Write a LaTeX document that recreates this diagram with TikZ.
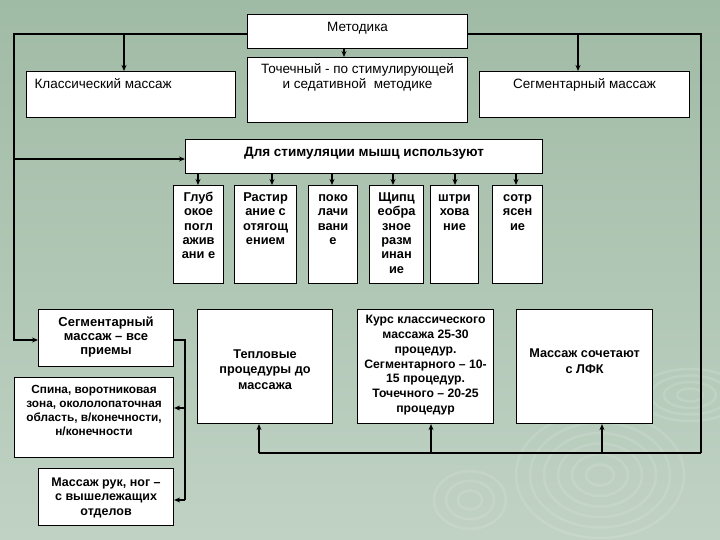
\documentclass[tikz,border=0pt]{standalone}
\usepackage{fontspec}
\setmainfont{Liberation Sans}
\usetikzlibrary{arrows.meta}
\newcommand\cellbox[4]{\parbox[c][#2pt][t]{#1pt}{\vspace*{#3pt}\centering #4\par}}
\newcommand\cellboxl[4]{\parbox[c][#2pt][t]{#1pt}{\vspace*{#3pt}\raggedright\hspace*{8pt}#4\par}}
\definecolor{bgtop}{RGB}{160,187,165}
\definecolor{bgbot}{RGB}{192,210,196}
\tikzset{
  box/.style={draw=black, fill=white, line width=1.1pt, inner sep=0pt, anchor=north west},
  fr/.style={node font=\fontsize{13.5}{13}\selectfont},
  fb/.style={node font=\bfseries\fontsize{#1}{#1}\selectfont},
  smallbox/.style={box, node font=\bfseries\fontsize{12.8}{14.4}\selectfont},
  ln/.style={line width=1.1pt, draw=black},
  arr/.style={ln, -{Stealth[length=6pt,width=5pt]}},
  lnb/.style={line width=2pt, draw=black},
  arrb/.style={lnb, -{Stealth[length=6pt,width=5pt]}},
  ripple/.style={draw=white, draw opacity=0.12, line width=2.5pt}
}
\begin{document}
\begin{tikzpicture}[x=1pt,y=-1pt]
\useasboundingbox (0,0) rectangle (720,540);
\shade[top color=bgtop, bottom color=bgbot] (0,0) rectangle (720,540);
% ripples
\begin{scope}
\clip (0,0) rectangle (720,540);
\foreach \r in {14,28,42,56,70,84} \draw[ripple] (600,475) ellipse ({\r} and {0.75*\r});
\foreach \r in {10,20,30,40} \draw[ripple] (690,395) ellipse ({1.3*\r} and {0.65*\r});
\foreach \r in {12,24,36} \draw[ripple] (470,500) ellipse ({\r} and {0.8*\r});
\end{scope}

% top row
\node[box, fr] (met) at (247,14) {\cellbox{220}{34}{8}{Методика}};
\node[box, fr, node font=\fontsize{13.5}{15}\selectfont] (toch) at (247,57) {\cellbox{220}{65}{6.3}{Точечный - по стимулирующей\\и седативной~ методике}};
\node[box, fr] (klass) at (26,71) {\cellboxl{209}{46}{6.5}{Классический массаж}};
\node[box, fr] (segm) at (479,71) {\cellbox{210}{46}{6.5}{Сегментарный массаж}};

% stimulation
\node[box, fb=13.5] (stim) at (185,139) {\cellbox{357}{34}{7.5}{Для стимуляции мышц используют}};

\node[smallbox] (b1) at (173,185) {\cellbox{50}{98}{5.6}{\strut Глуб\\окое\\погл\\ажив\\ани е}};
\node[smallbox] (b2) at (234,185) {\cellbox{62}{98}{5.6}{\strut Растир\\ание с\\отягощ\\ением}};
\node[smallbox] (b3) at (308,185) {\cellbox{49}{98}{5.6}{\strut поко\\лачи\\вани\\е}};
\node[smallbox] (b4) at (369,185) {\cellbox{54}{98}{5.6}{\strut Щипц\\еобра\\зное\\разм\\инан\\ие}};
\node[smallbox] (b5) at (430,185) {\cellbox{48}{98}{5.6}{\strut штри\\хова\\ние}};
\node[smallbox] (b6) at (492,185) {\cellbox{50}{98}{5.6}{\strut сотр\\ясен\\ие}};

% bottom left
\node[box, node font=\bfseries\fontsize{13}{14}\selectfont] (seg2) at (38,309) {\cellbox{135}{57}{7.5}{Сегментарный\\массаж – все\\приемы}};
\node[box, node font=\bfseries\fontsize{11.8}{14}\selectfont] (spina) at (14,377) {\cellbox{159}{80}{8}{Спина, воротниковая\\зона, окололопаточная\\область, в/конечности,\\н/конечности}};
\node[box, node font=\bfseries\fontsize{12.5}{14.5}\selectfont] (ruk) at (38,468) {\cellbox{135}{57}{9}{Массаж рук, ног –\\с вышележащих\\отделов}};

% bottom right
\node[box, node font=\bfseries\fontsize{12.7}{15.5}\selectfont] (tep) at (197,309) {\cellbox{135}{114}{40}{Тепловые\\процедуры до\\массажа}};
\node[box, node font=\bfseries\fontsize{12.2}{14.7}\selectfont] (kurs) at (357,309) {\cellbox{136}{114}{6}{Курс классического\\массажа 25-30\\процедур.\\Сегментарного – 10-\\15 процедур.\\Точечного – 20-25\\процедур}};
\node[box, node font=\bfseries\fontsize{12.7}{16}\selectfont] (lfk) at (516,309) {\cellbox{136}{114}{39}{Массаж сочетают\\с ЛФК}};

% coordinates
\coordinate (cTL) at (14,34);
\coordinate (cTR) at (701,34);
\coordinate (cK) at (124,34);
\coordinate (cS) at (578,34);
\coordinate (cT) at (344,0);
\coordinate (cL) at (14,340);
\coordinate (cL2) at (14,159);
\coordinate (cBR) at (701,453);
\coordinate (cB1) at (259,453);
\coordinate (cB2) at (431,453);
\coordinate (cB3) at (602,453);
\coordinate (cR2) at (185,408);
\coordinate (cR3) at (185,500);
\coordinate (a1) at (198,0);
\coordinate (a2) at (272,0);
\coordinate (a3) at (332,0);
\coordinate (a4) at (393,0);
\coordinate (a5) at (455,0);
\coordinate (a6) at (516,0);

% connectors
\draw[arr] (met.west |- cTL) -- (cTL) -- (cL) -- (cL -| seg2.west);
\draw[arr] (cK) -- (cK |- klass.north);
\draw[arr] (cS) -- (cS |- segm.north);
\draw[arr] (met.south -| cT) -- (toch.north -| cT);
\draw[ln] (met.east |- cTR) -- (cTR) -- (cBR);
\draw[arr] (cL2) -- (cL2 -| stim.west);
\foreach \i in {1,...,6} \draw[arr] (stim.south -| a\i) -- (b\i.north -| a\i);
\draw[ln] (seg2.east |- cL) -- (cL -| cR3) -- (cR3);
\draw[arr] (cR2) -- (cR2 -| spina.east);
\draw[arr] (cR3) -- (cR3 -| ruk.east);
\draw[lnb] (cBR) -- (cB1);
\draw[arrb] (cB1) -- (cB1 |- tep.south);
\draw[arrb] (cB2) -- (cB2 |- kurs.south);
\draw[arrb] (cB3) -- (cB3 |- lfk.south);
\end{tikzpicture}
\end{document}
